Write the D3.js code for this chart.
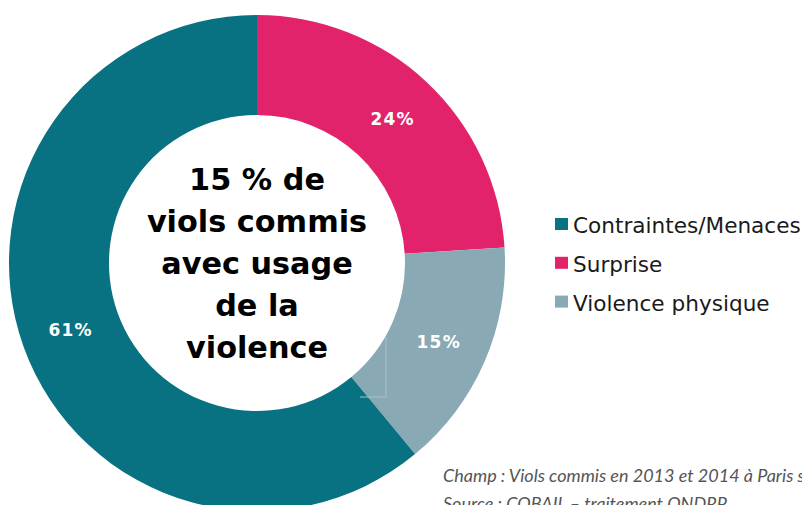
<!DOCTYPE html>
<html>
<head>
<meta charset="utf-8">
<script src="https://cdn.jsdelivr.net/npm/d3@7"></script>
<style>
  html, body { margin: 0; padding: 0; background: #fff; overflow: hidden; }
  svg { display: block; }
</style>
</head>
<body>
<svg id="chart" width="802" height="505"></svg>
<script>
// Types de contrainte (ordre de dessin, sens horaire depuis midi)
const sliceNames   = ["Surprise", "Violence physique", "Contraintes/Menaces"];
const sliceValues  = [24, 15, 61];
const sliceColors  = ["#e2226a", "#89a9b5", "#087282"];

// Ordre de la légende
const legendNames  = ["Contraintes/Menaces", "Surprise", "Violence physique"];

// Texte central
const centerLines  = ["15 % de", "viols commis", "avec usage", "de la", "violence"];

// Notes de bas de page
const noteLines = [
  "Champ\u202F: Viols commis en 2013 et 2014 à Paris sur",
  "Source\u202F: COBAIL – traitement ONDRP"
];

const svg = d3.select("#chart");
const cx = 257, cy = 263, rOuter = 248, rInner = 148;

const color = d3.scaleOrdinal().domain(sliceNames).range(sliceColors);

const pie = d3.pie().sort(null).value(d => d.value);
const arcs = pie(sliceNames.map((n, i) => ({ name: n, value: sliceValues[i] })));
const arc = d3.arc().innerRadius(rInner).outerRadius(rOuter);

const g = svg.append("g").attr("transform", `translate(${cx},${cy})`);

g.selectAll("path.slice")
  .data(arcs)
  .join("path")
  .attr("class", "slice")
  .attr("d", arc)
  .attr("fill", d => color(d.data.name));

// Cadre résiduel d'étiquette, visible sur la part « Violence physique »
g.append("polyline")
  .attr("points", [[129, 74], [129, 134], [103, 134]].map(p => p.join(",")).join(" "))
  .attr("fill", "none")
  .attr("stroke", "#a9c0c9")
  .attr("stroke-width", 1);

// Pourcentages au centre de chaque part
g.selectAll("text.pct")
  .data(arcs)
  .join("text")
  .attr("class", "pct")
  .attr("transform", d => `translate(${arc.centroid(d)})`)
  .attr("text-anchor", "middle")
  .attr("dy", "0.36em")
  .attr("fill", "#fff")
  .attr("font-family", "DejaVu Sans, Verdana, sans-serif")
  .attr("font-weight", "bold")
  .attr("font-size", 17)
  .attr("letter-spacing", 1.2)
  .text(d => d.data.value + "%");

// Texte central
g.selectAll("text.center")
  .data(centerLines)
  .join("text")
  .attr("class", "center")
  .attr("x", 0)
  .attr("y", (d, i) => -73 + i * 42)
  .attr("text-anchor", "middle")
  .attr("fill", "#000")
  .attr("font-family", "DejaVu Sans, Verdana, sans-serif")
  .attr("font-weight", "bold")
  .attr("font-size", 30.3)
  .text(d => d);

// Légende
const legend = svg.append("g").attr("transform", "translate(555,218)");
const rows = legend.selectAll("g")
  .data(legendNames)
  .join("g")
  .attr("transform", (d, i) => `translate(0,${i * 38.8})`);
rows.append("rect")
  .attr("width", 13).attr("height", 12)
  .attr("fill", d => color(d));
rows.append("text")
  .attr("x", 18).attr("y", 15)
  .attr("font-family", "DejaVu Sans, Verdana, sans-serif")
  .attr("font-size", 21.6)
  .attr("fill", "#1a1a1a")
  .text(d => d);

// Notes (la seconde ligne déborde du cadre en bas)
svg.selectAll("text.note")
  .data(noteLines)
  .join("text")
  .attr("class", "note")
  .attr("x", 443)
  .attr("y", (d, i) => 482 + i * 28)
  .attr("font-family", "Lato, sans-serif")
  .attr("font-style", "italic")
  .attr("font-size", 18)
  .attr("fill", "#555")
  .text(d => d);
</script>
</body>
</html>
